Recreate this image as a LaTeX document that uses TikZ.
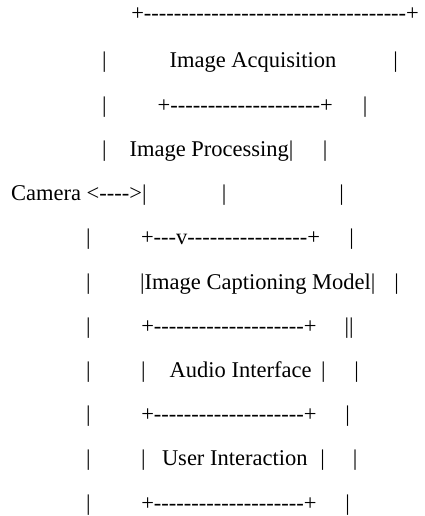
\documentclass[tikz,border=0pt]{standalone}
\usepackage{fontspec}
\newfontfamily\asciifont{Liberation Serif}
% a run of separate hyphens (the kern keeps them from joining into dashes)
\newcommand\dashrun[1]{\foreach\k in {1,...,#1}{-\kern0pt}}
\tikzset{
  txt/.style={inner sep=0pt, outer sep=0pt, anchor=base west,
    font=\asciifont\fontsize{22.5}{27}\selectfont},
  bar/.style={txt, anchor=base}
}
\begin{document}
\begin{tikzpicture}[x=1pt,y=-1pt]
\useasboundingbox (0,0) rectangle (424,516);
% row 1
\node[txt] (top) at (131.3,21) {+\dashrun{35}+};
% row 2
\node[bar] (l2a) at (104.3,68) {|};
\node[txt] (acq) at (169.6,68) {Image Acquisition};
\node[bar] (l2b) at (395.7,68) {|};
% row 3
\node[bar] (l3a) at (104.3,112.2) {|};
\node[txt] (proctop) at (157.6,112.2) {+\dashrun{20}+};
\node[bar] (l3b) at (365,112.2) {|};
% row 4
\node[bar] (l4a) at (104.3,156.4) {|};
\node[txt] (proc) at (129.6,156.4) {Image Processing|};
\node[bar] (l4b) at (325,156.4) {|};
% row 5
\node[txt] (cam) at (11.1,200.6) {Camera <\dashrun{4}>|};
\node[bar] (l5a) at (224,200.6) {|};
\node[bar] (l5b) at (341.7,200.6) {|};
% row 6
\node[bar] (l6a) at (88.3,244.8) {|};
\node[txt] (captop) at (141,244.8) {+\dashrun{3}v\dashrun{16}+};
\node[bar] (l6b) at (351.7,244.8) {|};
% row 7
\node[bar] (l7a) at (88.3,289) {|};
\node[txt] (cap) at (140.2,289) {|Image Captioning Model|};
\node[bar] (l7b) at (396.7,289) {|};
% row 8
\node[bar] (l8a) at (88.3,333.2) {|};
\node[txt] (audtop) at (141.3,333.2) {+\dashrun{20}+};
\node[txt] (l8b) at (344.7,333.2) {||};
% row 9
\node[bar] (l9a) at (88.3,377.4) {|};
\node[bar] (l9b) at (143.3,377.4) {|};
\node[txt] (aud) at (169.7,377.4) {Audio Interface};
\node[bar] (l9c) at (323.3,377.4) {|};
\node[bar] (l9d) at (356.7,377.4) {|};
% row 10
\node[bar] (l10a) at (88.3,421.6) {|};
\node[txt] (usrtop) at (141.3,421.6) {+\dashrun{20}+};
\node[bar] (l10b) at (347.7,421.6) {|};
% row 11
\node[bar] (l11a) at (88.3,465.8) {|};
\node[bar] (l11b) at (143.3,465.8) {|};
\node[txt] (usr) at (162,465.8) {User Interaction};
\node[bar] (l11c) at (322.7,465.8) {|};
\node[bar] (l11d) at (355,465.8) {|};
% row 12
\node[bar] (l12a) at (88.3,510) {|};
\node[txt] (usrbot) at (141.3,510) {+\dashrun{20}+};
\node[bar] (l12b) at (347.7,510) {|};
\end{tikzpicture}
\end{document}
